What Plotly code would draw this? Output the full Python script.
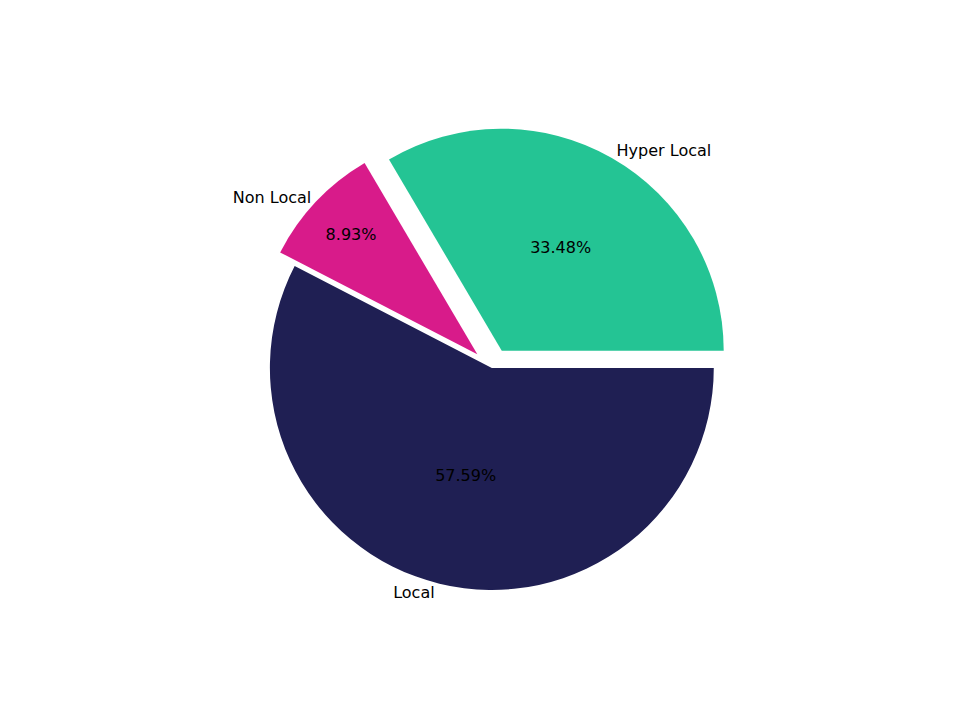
import plotly.graph_objects as go

labels = ["Local", "Non Local", "Hyper Local"]
values = [57.59, 8.93, 33.48]
colors = ["#1f1f53", "#d81b8a", "#24c494"]
pulls = [0, 0.09, 0.09]

dom = dict(x=[0.252, 0.756], y=[0.164, 0.836])
common = dict(labels=labels, values=values, sort=False, direction="clockwise",
              rotation=90, pull=pulls, domain=dom, showlegend=False, hoverinfo="skip")

fig = go.Figure()
fig.add_trace(go.Pie(**common, marker=dict(colors=colors, line=dict(width=0)),
                     texttemplate="%{percent:.2%}", textposition="inside",
                     insidetextorientation="horizontal",
                     textfont=dict(color="black", size=16, family="DejaVu Sans")))
fig.add_trace(go.Pie(**common, marker=dict(colors=["rgba(0,0,0,0)"] * 3, line=dict(width=0)),
                     textinfo="label", textposition="outside",
                     outsidetextfont=dict(color="black", size=16, family="DejaVu Sans")))
fig.update_layout(width=960, height=720, margin=dict(l=0, r=0, t=0, b=0),
                  paper_bgcolor="white", plot_bgcolor="white")
fig.write_html("out.html")
